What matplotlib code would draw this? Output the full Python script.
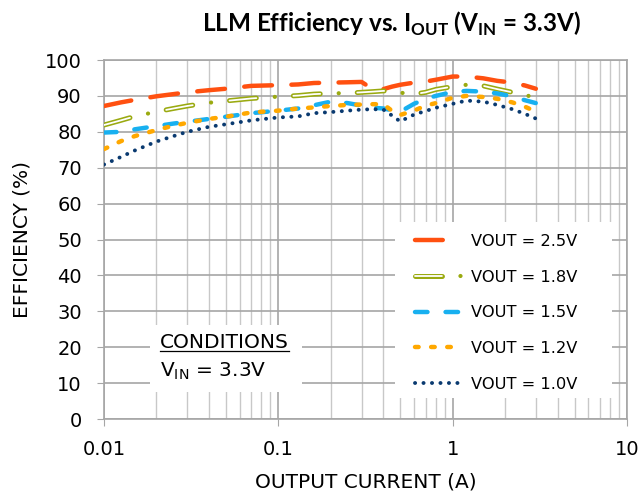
import matplotlib
matplotlib.use("Agg")
import matplotlib.pyplot as plt
import matplotlib.patheffects as pe
from matplotlib.patches import Rectangle
from matplotlib.ticker import LogLocator, FixedLocator
from matplotlib.legend_handler import HandlerTuple

plt.rcParams['font.family'] = ['DejaVu Sans']
plt.rcParams['lines.scale_dashes'] = False
plt.rcParams['mathtext.fontset'] = 'custom'
plt.rcParams['mathtext.rm'] = 'DejaVu Sans'
plt.rcParams['mathtext.bf'] = 'Lato:bold'

# output current (A)
current = [0.01, 0.0125, 0.015, 0.02, 0.025, 0.03, 0.04, 0.05, 0.07, 0.1,
           0.13, 0.16, 0.2, 0.25, 0.3, 0.35, 0.4, 0.45, 0.5, 0.6,
           0.7, 0.8, 1.0, 1.2, 1.5, 1.8, 2.2, 2.6, 3.0]

# efficiency (%)
eff_25 = [87.2, 88.2, 88.9, 89.9, 90.5, 91.0, 91.6, 92.0, 92.8, 93.0,
          93.2, 93.6, 93.7, 93.8, 93.9, 91.8, 91.9, 92.6, 93.1, 93.7,
          94.0, 94.5, 95.4, 95.4, 94.9, 94.2, 93.7, 92.9, 92.0]
eff_18 = [81.9, 83.2, 84.3, 85.6, 86.5, 87.2, 88.1, 88.6, 89.3, 89.8,
          90.1, 90.5, 90.7, 90.8, 91.0, 91.2, 91.4, 91.3, 90.9, 90.5,
          91.0, 91.8, 92.6, 93.1, 92.8, 91.9, 91.0, 90.2, 89.6]
eff_15 = [79.8, 80.0, 80.7, 81.6, 82.3, 82.8, 83.6, 84.2, 85.2, 85.9,
          86.5, 87.4, 88.4, 88.0, 87.3, 86.7, 86.5, 86.0, 85.6, 87.8,
          89.2, 90.0, 91.1, 91.4, 91.2, 90.7, 89.9, 88.8, 88.0]
eff_12 = [75.2, 77.4, 78.8, 80.5, 81.7, 82.5, 83.6, 84.2, 85.4, 85.9,
          86.5, 86.8, 87.2, 87.5, 87.6, 87.7, 87.7, 85.8, 84.7, 85.9,
          87.3, 88.0, 89.5, 90.0, 89.7, 89.2, 88.2, 87.0, 85.6]
eff_10 = [70.9, 73.0, 74.8, 77.3, 78.8, 80.0, 81.4, 82.1, 83.2, 84.0,
          84.3, 85.2, 85.5, 85.9, 86.2, 86.3, 86.2, 84.5, 82.9, 84.8,
          85.8, 86.7, 87.8, 88.7, 88.4, 87.5, 86.3, 85.0, 83.7]

labels = ['VOUT = 2.5V', 'VOUT = 1.8V', 'VOUT = 1.5V', 'VOUT = 1.2V', 'VOUT = 1.0V']

fig = plt.figure(figsize=(6.44, 4.96), dpi=100)
ax = fig.add_axes([0.1615, 0.155, 0.8121, 0.724])

l25, = ax.plot(current, eff_25, color='#ff5010', lw=3.2, dashes=(20, 14),
               dash_capstyle='round', zorder=5)
l18, = ax.plot(current, eff_18, color='white', lw=1.3, dashes=(19.4, 26.7),
               dash_capstyle='round', zorder=5,
               path_effects=[pe.Stroke(linewidth=3.6, foreground='#9aaa10'), pe.Normal()])
l18d, = ax.plot(current, eff_18, color='#9aaa10', lw=3.0, linestyle=(13.4, (0.1, 46.0)),
                dash_capstyle='round', zorder=5)
l15, = ax.plot(current, eff_15, color='#18b0f0', lw=3.2, dashes=(9, 13),
               dash_capstyle='round', zorder=5)
l12, = ax.plot(current, eff_12, color='#ffa800', lw=3.2, dashes=(2.6, 9),
               dash_capstyle='round', zorder=5)
l10, = ax.plot(current, eff_10, color='#0a3a70', lw=2.8, dashes=(0.1, 6),
               dash_capstyle='round', zorder=5)

ax.set_xscale('log')
ax.set_xlim(0.01, 10)
ax.set_ylim(0, 100)
ax.yaxis.set_major_locator(FixedLocator(range(0, 101, 10)))
ax.xaxis.set_minor_locator(LogLocator(base=10, subs=range(2, 10)))
ax.xaxis.set_minor_formatter(plt.NullFormatter())
ax.set_xticks([0.01, 0.1, 1, 10])
ax.set_xticklabels(['0.01', '0.1', '1', '10'])

ax.grid(True, which='major', color='#a6a6a6', lw=1.2)
ax.grid(True, which='minor', axis='x', color='#c8c8c8', lw=1.0)
ax.set_axisbelow(True)
for s in ax.spines.values():
    s.set_color('#a6a6a6')
    s.set_linewidth(1.2)
ax.tick_params(axis='both', which='major', color='#a6a6a6', length=5,
               labelsize=14)
ax.tick_params(axis='x', which='major', pad=10)
ax.tick_params(axis='y', which='major', pad=11)
ax.tick_params(axis='x', which='minor', length=0)

ax.set_xlabel('OUTPUT CURRENT (A)', fontsize=14.5, labelpad=10)
ax.set_ylabel('EFFICIENCY (%)', fontsize=14.5, labelpad=10)

fig.text(0.608, 0.936, r'LLM Efficiency vs. I$_{\mathbf{OUT}}$ (V$_{\mathbf{IN}}$ = 3.3V)',
         ha='center', va='baseline', fontsize=17.5, fontweight='bold', family='Lato')

# conditions box
ax.add_patch(Rectangle((0.088, 0.075), 0.29, 0.187, transform=ax.transAxes,
                       facecolor='white', edgecolor='none', zorder=3))
cond = ax.text(0.107, 0.197, 'CONDITIONS', transform=ax.transAxes, fontsize=14.5,
               va='baseline', zorder=4)
ax.text(0.107, 0.117, r'V$_{\mathrm{IN}}$ = 3.3V', transform=ax.transAxes, fontsize=14.5,
        va='baseline', zorder=4)
fig.canvas.draw()
bb = cond.get_window_extent().transformed(ax.transAxes.inverted())
ax.plot([bb.x0, bb.x1], [0.190, 0.190], transform=ax.transAxes, color='black', lw=0.9, zorder=4)

# legend box
ax.add_patch(Rectangle((0.556, 0.058), 0.415, 0.491, transform=ax.transAxes,
                       facecolor='white', edgecolor='none', zorder=3))
leg = ax.legend(handles=[l25, (l18, l18d), l15, l12, l10], labels=labels,
                handler_map={tuple: HandlerTuple(ndivide=1, pad=0)},
                loc='lower left', bbox_to_anchor=(0.5946, 0.0766),
                fontsize=11.7, handlelength=2.9, handletextpad=0.55,
                labelspacing=1.27, borderpad=0, borderaxespad=0, frameon=False)
leg.set_zorder(6)

fig.savefig('out.png', dpi=100)
